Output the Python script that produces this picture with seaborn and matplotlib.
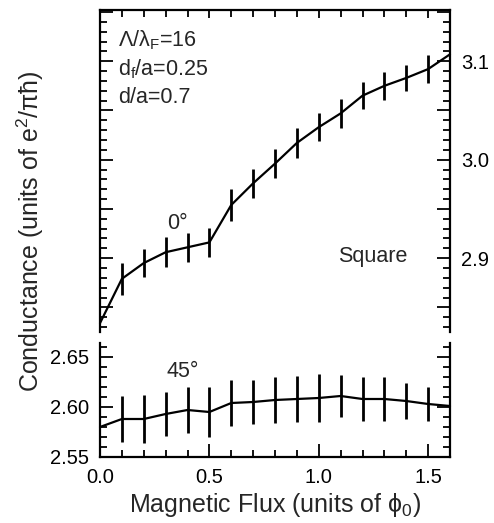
import numpy as np
import pandas as pd
import matplotlib
matplotlib.use("Agg")
import matplotlib.pyplot as plt
from matplotlib.ticker import MultipleLocator, FuncFormatter
import seaborn as sns

# Magnetic flux (units of phi_0)
flux = [0.0, 0.1, 0.2, 0.3, 0.4, 0.5, 0.6, 0.7, 0.8, 0.9,
        1.0, 1.1, 1.2, 1.3, 1.4, 1.5, 1.6]

# 0 degree orientation: conductance and error
g_0deg = [2.834, 2.879, 2.895, 2.906, 2.911, 2.916, 2.954, 2.976, 2.996,
          3.017, 3.033, 3.047, 3.065, 3.075, 3.083, 3.092, 3.107]
err_0deg = [0.0, 0.016, 0.014, 0.015, 0.015, 0.015, 0.016, 0.015, 0.015,
            0.015, 0.014, 0.015, 0.014, 0.014, 0.013, 0.014, 0.0]

# 45 degree orientation: conductance and error
g_45deg = [2.580, 2.588, 2.588, 2.593, 2.597, 2.595, 2.604, 2.605, 2.607,
           2.608, 2.609, 2.611, 2.608, 2.608, 2.606, 2.603, 2.601]
err_45deg = [0.0, 0.023, 0.024, 0.022, 0.023, 0.025, 0.023, 0.022, 0.023,
             0.023, 0.024, 0.021, 0.022, 0.022, 0.018, 0.017, 0.0]

xtick_labels = ["0.0", "0.5", "1.0", "1.5"]

df0 = pd.DataFrame({"flux": flux, "G": g_0deg, "err": err_0deg})
df45 = pd.DataFrame({"flux": flux, "G": g_45deg, "err": err_45deg})

sns.set_theme(style="ticks")
plt.rcParams["font.family"] = ["Liberation Sans", "DejaVu Sans"]
plt.rcParams["mathtext.default"] = "regular"
plt.rcParams["axes.linewidth"] = 1.6
FS_TICK = 14.5
FS_NOTE = 15.5
FS_LABEL = 18

fig = plt.figure(figsize=(4.94, 5.23), dpi=100)
W, H = 494, 523


def box(l, t, r, b):
    return [l / W, 1 - b / H, (r - l) / W, (b - t) / H]


ax_top = fig.add_axes(box(100, 10, 450, 332))
ax_bot = fig.add_axes(box(100, 343, 450, 457))

for ax, df in ((ax_top, df0), (ax_bot, df45)):
    sns.lineplot(data=df, x="flux", y="G", ax=ax, color="black",
                 linewidth=1.6, estimator=None, errorbar=None, clip_on=False)
    ax.errorbar(df["flux"], df["G"], yerr=df["err"], fmt="none",
                ecolor="black", elinewidth=2.0, capsize=0)
    ax.set_xlim(0, 1.6)
    ax.set_xlabel("")
    ax.set_ylabel("")
    ax.xaxis.set_major_locator(MultipleLocator(0.5))
    ax.xaxis.set_minor_locator(MultipleLocator(0.1))
    ax.yaxis.set_major_locator(MultipleLocator(0.05))
    ax.yaxis.set_minor_locator(MultipleLocator(0.01))
    ax.tick_params(which="both", direction="in", width=1.3, colors="black",
                   labelsize=FS_TICK, pad=8)
    ax.tick_params(which="major", length=9.5)
    ax.tick_params(which="minor", length=5)
    for s in ax.spines.values():
        s.set_color("black")

# upper panel: broken at the bottom, labels on the right
ax_top.set_ylim(2.825, 3.152)
ax_top.spines["bottom"].set_visible(False)
ax_top.tick_params(which="both", top=True, bottom=False, left=True,
                   right=True, labelbottom=False, labelleft=False,
                   labelright=True)
ax_top.tick_params(axis="x", which="major", length=6)
ax_top.yaxis.set_major_formatter(FuncFormatter(
    lambda v, p: f"{v:.1f}" if abs(v * 10 - round(v * 10)) < 1e-6 else ""))

# lower panel: broken at the top, labels on the left
ax_bot.set_ylim(2.55, 2.664)
ax_bot.spines["top"].set_visible(False)
ax_bot.tick_params(which="both", top=False, bottom=True, left=True,
                   right=True, labelleft=True, labelright=False)
ax_bot.yaxis.set_major_formatter(FuncFormatter(lambda v, p: f"{v:.2f}"))
ax_bot.set_xticks([0.0, 0.5, 1.0, 1.5])
ax_bot.set_xticklabels(xtick_labels)
ax_bot.set_xlabel(r"Magnetic Flux (units of $\phi_0$)", fontsize=FS_LABEL,
                  labelpad=3)

# annotations
ax_top.text(0.082, 3.115, r"$\Lambda/\lambda_F$=16", fontsize=FS_NOTE,
            va="baseline")
ax_top.text(0.082, 3.0858, r"$d_f$/a=0.25", fontsize=FS_NOTE, va="baseline")
ax_top.text(0.082, 3.058, "d/a=0.7", fontsize=FS_NOTE, va="baseline")
ax_top.text(0.306, 2.930, "0°", fontsize=FS_NOTE, va="baseline")
ax_top.text(1.087, 2.896, "Square", fontsize=FS_NOTE, va="baseline")
ax_bot.text(0.306, 2.630, "45°", fontsize=FS_NOTE, va="baseline")

fig.text(30 / W, 1 - 231 / H, r"Conductance (units of e$^2$/$\pi\hbar$)",
         rotation=90, fontsize=FS_LABEL, ha="center", va="center")

fig.savefig("out.png", dpi=100)
